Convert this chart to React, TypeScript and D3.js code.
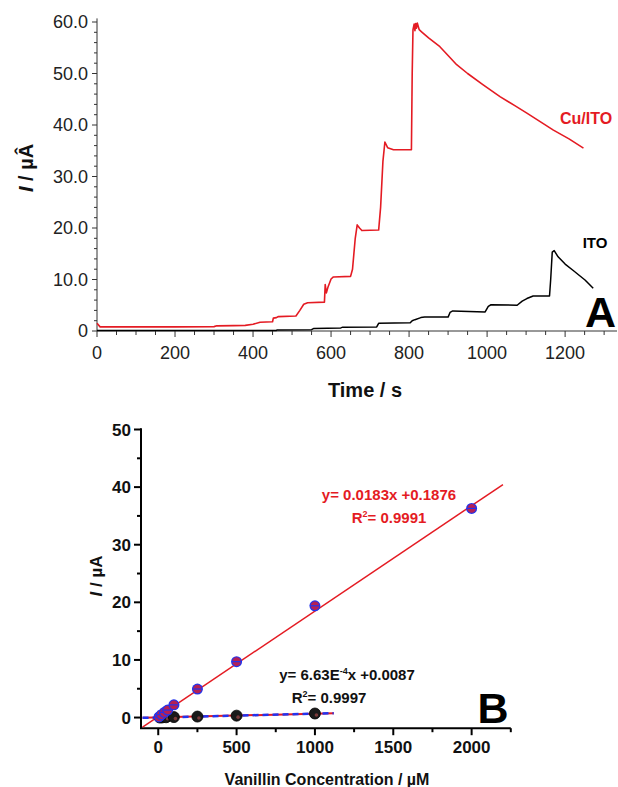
import React from "react";
import * as d3 from "d3";

// ---------- Panel A data (chronoamperometry) ----------
const cuTime = [0, 8, 100, 200, 300, 307, 350, 380, 400, 418, 450, 452, 460, 465, 510, 520, 530, 540, 583, 585, 588, 592, 600, 606, 650, 655, 662, 667, 673, 679, 722, 727, 733, 738, 745, 760, 806, 808, 810, 813, 815, 817, 819, 821, 826, 832, 850, 879, 900, 922, 950, 990, 1033, 1070, 1102, 1135, 1170, 1210, 1247];
const cuCurrent = [1.5, 0.8, 0.8, 0.8, 0.85, 1.0, 1.05, 1.1, 1.3, 1.7, 1.8, 2.5, 2.6, 2.8, 2.9, 4.0, 5.2, 5.5, 5.6, 9.0, 7.4, 8.5, 10.1, 10.5, 10.6, 12, 18, 20.6, 20.0, 19.5, 19.6, 24, 33, 36.7, 35.6, 35.2, 35.2, 50, 58.5, 59.6, 58.3, 59.7, 58.8, 59.8, 58.5, 58.1, 56.9, 55.2, 53.5, 51.7, 50.0, 47.8, 45.5, 43.8, 42.3, 40.7, 39.0, 37.3, 35.5];
const itoTime = [0, 460, 462, 550, 556, 625, 630, 717, 722, 803, 808, 815, 830, 840, 900, 905, 912, 995, 1003, 1010, 1077, 1090, 1102, 1118, 1160, 1163, 1167, 1172, 1182, 1200, 1220, 1251, 1272];
const itoCurrent = [0.1, 0.1, 0.2, 0.25, 0.5, 0.6, 0.75, 0.8, 1.5, 1.6, 2.0, 2.2, 2.6, 2.7, 2.7, 3.6, 3.9, 3.7, 4.8, 5.1, 5.0, 5.8, 6.3, 6.8, 6.8, 10, 15.3, 15.6, 14.4, 13.0, 11.8, 9.9, 8.3];
const aXTickLabels = [0, 200, 400, 600, 800, 1000, 1200];
const aYTickLabels = [0, 10, 20, 30, 40, 50, 60];

// ---------- Panel B data (calibration) ----------
const cuConc = [5, 20, 40, 60, 100, 250, 500, 1000, 2000];
const cuI = [0.1, 0.5, 0.9, 1.3, 2.2, 4.95, 9.7, 19.4, 36.3];
const itoConc = [10, 25, 50, 100, 250, 500, 1000];
const itoI = [0.0, 0.02, 0.05, 0.08, 0.17, 0.33, 0.7];
const cuFit = { slope: 0.0183, intercept: 0.1876, from: -100, to: 2200 };
const itoFit = { slope: 6.63e-4, intercept: 0.0087, from: -100, to: 1120 };
const bXTickLabels = [0, 500, 1000, 1500, 2000];
const bYTickLabels = [0, 10, 20, 30, 40, 50];

const RED = "#e41b23";
const BLUE = "#2233ee";
const FONT = "Arial, 'Liberation Sans', Helvetica, sans-serif";

export default function App() {
  // Panel A scales
  const xA = d3.scaleLinear().domain([0, 1333]).range([97, 617]);
  const yA = d3.scaleLinear().domain([0, 60]).range([331, 22]);
  const lineA = d3
    .line<[number, number]>()
    .x((d) => xA(d[0]))
    .y((d) => yA(d[1]));
  const cuPts = cuTime.map((t, i) => [t, cuCurrent[i]] as [number, number]);
  const itoPts = itoTime.map((t, i) => [t, itoCurrent[i]] as [number, number]);
  const aXTicks = d3.range(0, 1301, 50);
  const aYTicks = d3.range(0, 61, 2);

  // Panel B scales
  const xB = d3.scaleLinear().domain([-110, 2250]).range([141, 510.8]);
  const yB = d3.scaleLinear().domain([-1.85, 50]).range([728.2, 429.5]);
  const bXTicks = d3.range(0, 2251, 250);
  const bYTicks = d3.range(0, 51, 5);
  const fitPath = (f: typeof cuFit) =>
    d3.line<number>()
      .x((c) => xB(c))
      .y((c) => yB(f.slope * c + f.intercept))([f.from, f.to]) || "";

  return (
    <svg
      width={618}
      height={787}
      style={{ position: "absolute", left: 0, top: 0, background: "#fff" }}
      fontFamily={FONT}
    >
      <rect x={0} y={0} width={618} height={787} fill="#fff" />

      {/* ===== Panel A ===== */}
      <g>
        <line x1={xA(0)} x2={xA(0)} y1={yA(0)} y2={yA(60.7)} stroke="#333" strokeWidth={1} />
        <line x1={xA(0)} x2={xA(1333)} y1={yA(0)} y2={yA(0)} stroke="#333" strokeWidth={1} />
        {aYTicks.map((v) => (
          <line
            key={"ayt" + v}
            x1={xA(0) - (v % 10 === 0 ? 5 : 3)}
            x2={xA(0)}
            y1={yA(v)}
            y2={yA(v)}
            stroke="#333"
            strokeWidth={1}
          />
        ))}
        {aXTicks.map((v) => (
          <line
            key={"axt" + v}
            x1={xA(v)}
            x2={xA(v)}
            y1={yA(0)}
            y2={yA(0) + (v % 200 === 0 ? 6 : 4)}
            stroke="#333"
            strokeWidth={1}
          />
        ))}
        {aYTickLabels.map((v) => (
          <text
            key={"ayl" + v}
            x={xA(0) - 9}
            y={yA(v)}
            dy="0.36em"
            textAnchor="end"
            fontSize={18}
            fill="#222"
          >
            {v === 0 ? "0" : v.toFixed(1)}
          </text>
        ))}
        {aXTickLabels.map((v) => (
          <text
            key={"axl" + v}
            x={xA(v)}
            y={yA(0) + 28}
            textAnchor="middle"
            fontSize={18}
            fill="#222"
          >
            {v}
          </text>
        ))}
        <path d={lineA(cuPts) || ""} fill="none" stroke={RED} strokeWidth={1.6} strokeLinejoin="round" />
        <path d={lineA(itoPts) || ""} fill="none" stroke="#000" strokeWidth={1.5} strokeLinejoin="round" />
        <text x={586} y={118} dy="0.36em" textAnchor="middle" fontSize={16} fontWeight="bold" fill={RED}>
          Cu/ITO
        </text>
        <text x={595} y={243} dy="0.36em" textAnchor="middle" fontSize={15} fontWeight="bold" fill="#000">
          ITO
        </text>
        <text x={616} y={327} textAnchor="end" fontSize={43} fontWeight="bold" fill="#000">
          A
        </text>
        <text x={365} y={397} textAnchor="middle" fontSize={20} fontWeight="bold" fill="#111">
          Time / s
        </text>
        <text
          transform="translate(33,168) rotate(-90)"
          textAnchor="middle"
          fontSize={20}
          fontWeight="bold"
          fill="#111"
        >
          <tspan fontStyle="italic">I</tspan>
          <tspan> / µÂ</tspan>
        </text>
      </g>

      {/* ===== Panel B ===== */}
      <g>
        <line x1={xB(-110)} x2={xB(-110)} y1={yB(-1.85)} y2={yB(50.2)} stroke="#000" strokeWidth={2} />
        <line x1={xB(-110) - 1} x2={xB(2250)} y1={yB(-1.85)} y2={yB(-1.85)} stroke="#000" strokeWidth={2} />
        {bYTicks.map((v) => (
          <line
            key={"byt" + v}
            x1={xB(-110) - (v % 10 === 0 ? 7 : 4)}
            x2={xB(-110)}
            y1={yB(v)}
            y2={yB(v)}
            stroke="#000"
            strokeWidth={2}
          />
        ))}
        {bXTicks.map((v) => (
          <line
            key={"bxt" + v}
            x1={xB(v)}
            x2={xB(v)}
            y1={yB(-1.85)}
            y2={yB(-1.85) + (v % 500 === 0 ? 7 : 4)}
            stroke="#000"
            strokeWidth={2}
          />
        ))}
        {bYTickLabels.map((v) => (
          <text
            key={"byl" + v}
            x={xB(-110) - 10}
            y={yB(v)}
            dy="0.36em"
            textAnchor="end"
            fontSize={17}
            fontWeight="bold"
            fill="#111"
          >
            {v}
          </text>
        ))}
        {bXTickLabels.map((v) => (
          <text
            key={"bxl" + v}
            x={xB(v)}
            y={yB(-1.85) + 25}
            textAnchor="middle"
            fontSize={17}
            fontWeight="bold"
            fill="#111"
          >
            {v}
          </text>
        ))}

        {/* fits */}
        <path d={fitPath(cuFit)} stroke={RED} strokeWidth={1.5} fill="none" />
        <path d={fitPath(itoFit)} stroke={RED} strokeWidth={2} fill="none" />
        <path d={fitPath(itoFit)} stroke={BLUE} strokeWidth={2.5} strokeDasharray="6 4" fill="none" />

        {/* ITO points */}
        {itoConc.map((c, i) => (
          <g key={"ip" + i}>
            <circle cx={xB(c)} cy={yB(itoI[i])} r={5.5} fill="#1a1a1a" stroke="#000" strokeWidth={0.8} />
            <circle cx={xB(c) + 1.5} cy={yB(itoI[i]) + 1.5} r={1.8} fill="#7a3a3a" />
          </g>
        ))}
        {/* Cu/ITO points */}
        {cuConc.map((c, i) => (
          <g key={"cp" + i}>
            <circle cx={xB(c)} cy={yB(cuI[i])} r={5.5} fill={BLUE} />
            <circle cx={xB(c)} cy={yB(cuI[i])} r={4.3} fill={RED} fillOpacity={0.75} />
            <line
              x1={xB(c) - 5}
              x2={xB(c) + 5}
              y1={yB(cuI[i])}
              y2={yB(cuI[i])}
              stroke={BLUE}
              strokeWidth={1.2}
            />
          </g>
        ))}

        {/* equations */}
        <text x={389} y={495} dy="0.36em" textAnchor="middle" fontSize={15} fontWeight="bold" fill={RED}>
          y= 0.0183x +0.1876
        </text>
        <text x={389} y={518} dy="0.36em" textAnchor="middle" fontSize={15} fontWeight="bold" fill={RED}>
          R<tspan dy="-6" fontSize={9}>2</tspan>
          <tspan dy="6">= 0.9991</tspan>
        </text>
        <text x={347} y={675} dy="0.36em" textAnchor="middle" fontSize={15} fontWeight="bold" fill="#111">
          y= 6.63E<tspan dy="-6" fontSize={9}>-4</tspan>
          <tspan dy="6">x +0.0087</tspan>
        </text>
        <text x={329} y={698} dy="0.36em" textAnchor="middle" fontSize={15} fontWeight="bold" fill="#111">
          R<tspan dy="-6" fontSize={9}>2</tspan>
          <tspan dy="6">= 0.9997</tspan>
        </text>
        <text x={493} y={723} textAnchor="middle" fontSize={43} fontWeight="bold" fill="#000">
          B
        </text>
        <text x={327} y={785} textAnchor="middle" fontSize={16} fontWeight="bold" fill="#111">
          Vanillin Concentration / µM
        </text>
        <text
          transform="translate(102,576) rotate(-90)"
          textAnchor="middle"
          fontSize={17}
          fontWeight="bold"
          fill="#111"
        >
          <tspan fontStyle="italic">I</tspan>
          <tspan> / µA</tspan>
        </text>
      </g>
    </svg>
  );
}
